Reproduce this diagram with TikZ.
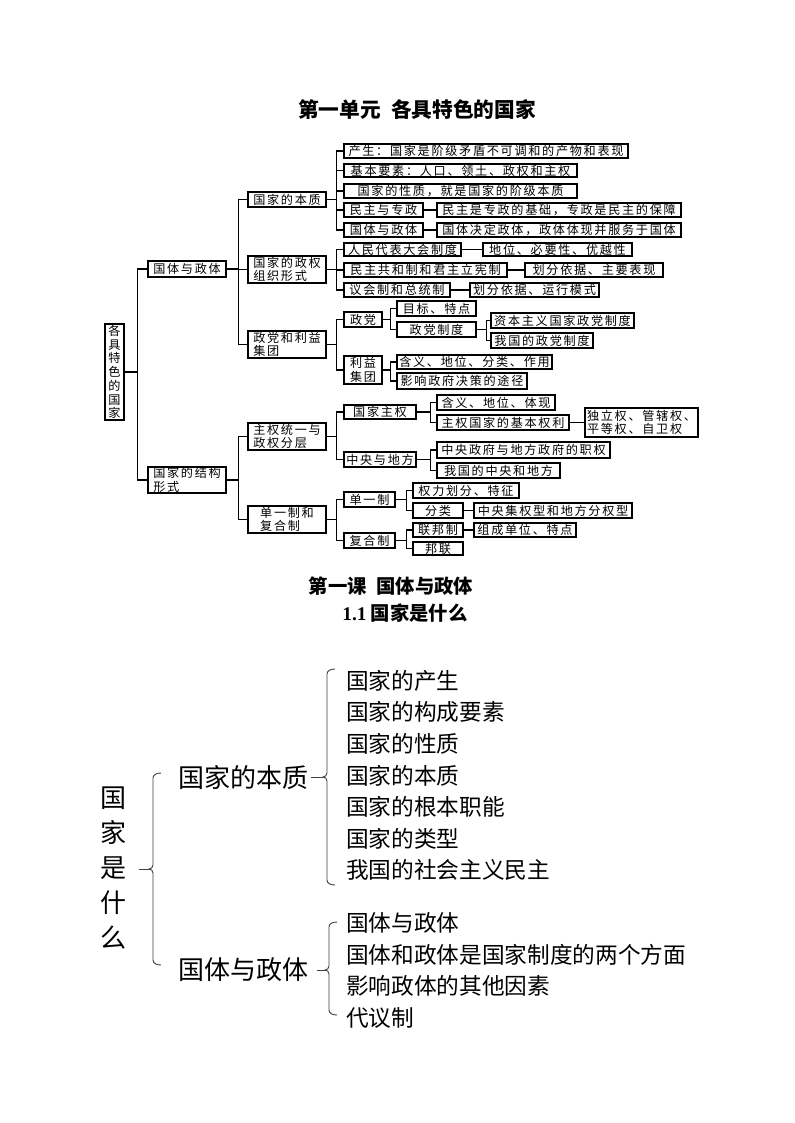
\documentclass[tikz,border=0pt]{standalone}
\usepackage{fontspec}
\setmainfont{Noto Sans CJK SC}
\newfontfamily\boxfont[LetterSpace=14]{Noto Sans CJK SC}
\newfontfamily\latinbold{Liberation Serif}
\tikzset{
  bx/.style={draw, line width=1.2pt, fill=white, inner sep=0pt,
    font=\boxfont\fontsize{9.1}{10}\selectfont, align=center},
  ln/.style={line width=0.9pt},
  brc/.style={line width=0.7pt, draw=black!75},
  big/.style={font=\fontsize{19.5}{26.25}\selectfont, inner sep=0pt},
  lst/.style={font=\fontsize{17}{23.7}\selectfont, inner sep=0pt, align=left, anchor=west},
  ttl/.style={font=\bfseries\fontsize{14.5}{17}\selectfont, inner sep=0pt}
}
% \bx[opts]{x1}{y1}{x2}{y2}{name}{text}
\newcommand\bx[7][]{\node[bx,#1,minimum width={(#4-#2)*0.75pt},minimum height={(#5-#3)*0.75pt}] (#6) at ({(#2+#4)/2},{(#3+#5)/2}) {#7};}
% \br{parent}{offset}{children}
\newcommand\br[3]{\draw[ln] (#1.east) -- ++(#2,0) coordinate (#1k);
  \foreach \c in {#3} {\draw[ln] (\c.west) -| (#1k);}}
% \mybrace{x}{top}{bottom}{tip}{spur}
\newcommand\mybrace[5]{\draw[brc] ({#1+8},#2) to[out=180,in=90] (#1,{#2+5}) -- (#1,{#4-4}) to[out=270,in=0] ({#1-4},#4) to[out=0,in=90] (#1,{#4+4}) -- (#1,{#3-5}) to[out=270,in=180] ({#1+8},#3);
  \draw[brc] (#5,#4) -- ({#1-4},#4);}
\begin{document}
\begin{tikzpicture}[x=0.75pt,y=-0.75pt]
\useasboundingbox[fill=white] (0,0) rectangle (794,1123);
% titles
\node[ttl, font=\bfseries\fontsize{15.5}{18}\selectfont] (t1) at (417,110) {第一单元\hspace{0.5em}各具特色的国家};
\node[ttl] (t2) at (391,586) {第一课\hspace{0.5em}国体与政体};
\node[ttl] (t3) at (405,613) {{\latinbold\bfseries 1.1} 国家是什么};
% top diagram boxes
\bx[font=\boxfont\fontsize{9.1}{10.3}\selectfont]{105}{324}{124}{420}{root}{各\\具\\特\\色\\的\\国\\家}
\bx{148}{261}{226}{277}{a1}{国体与政体}
\bx[align=left]{148}{467}{226}{493}{a2}{国家的结构\\形式}
\bx{248}{192}{326}{207}{b1}{国家的本质}
\bx[align=left]{248}{256}{326}{283}{b2}{国家的政权\\组织形式}
\bx[align=left]{248}{331}{326}{358}{b3}{政党和利益\\集团}
\bx[align=left]{248}{423}{326}{450}{b4}{主权统一与\\政权分层}
\bx[align=left]{248}{506}{326}{533}{b5}{单一制和\\复合制}
\bx{344}{144}{628}{158}{c1}{产生：国家是阶级矛盾不可调和的产物和表现}
\bx{344}{164}{577}{177}{c2}{基本要素：人口、领土、政权和主权}
\bx{344}{184}{577}{198}{c3}{国家的性质，就是国家的阶级本质}
\bx{344}{203}{423}{217}{c4}{民主与专政}
\bx{344}{223}{423}{237}{c5}{国体与政体}
\bx{437}{203}{681}{217}{d4}{民主是专政的基础，专政是民主的保障}
\bx{437}{223}{681}{237}{d5}{国体决定政体，政体体现并服务于国体}
\bx{344}{243}{461}{256}{c6}{人民代表大会制度}
\bx{483}{243}{632}{256}{d6}{地位、必要性、优越性}
\bx{344}{263}{507}{277}{c7}{民主共和制和君主立宪制}
\bx{525}{263}{663}{277}{d7}{划分依据、主要表现}
\bx{344}{283}{450}{297}{c8}{议会制和总统制}
\bx{470}{283}{599}{297}{d8}{划分依据、运行模式}
\bx{344}{312}{382}{327}{c9}{政党}
\bx{344}{356}{382}{384}{c10}{利益\\集团}
\bx{397}{301}{476}{316}{e1}{目标、特点}
\bx{397}{322}{476}{337}{e2}{政党制度}
\bx{491}{313}{634}{328}{f1}{资本主义国家政党制度}
\bx{491}{333}{593}{348}{f2}{我国的政党制度}
\bx{397}{355}{552}{369}{e3}{含义、地位、分类、作用}
\bx{397}{373}{527}{389}{e4}{影响政府决策的途径}
\bx{344}{405}{416}{419}{c11}{国家主权}
\bx{344}{452}{416}{467}{c12}{中央与地方}
\bx{437}{395}{555}{410}{g1}{含义、地位、体现}
\bx{437}{415}{569}{430}{g2}{主权国家的基本权利}
\bx[align=left]{585}{408}{698}{437}{h1}{独立权、管辖权、\\平等权、自卫权}
\bx{437}{442}{610}{458}{g3}{中央政府与地方政府的职权}
\bx{437}{463}{560}{478}{g4}{我国的中央和地方}
\bx{344}{492}{395}{507}{c13}{单一制}
\bx{344}{533}{395}{548}{c14}{复合制}
\bx{413}{483}{519}{498}{i1}{权力划分、特征}
\bx{413}{503}{463}{518}{i2}{分类}
\bx{474}{503}{632}{518}{j1}{中央集权型和地方分权型}
\bx{413}{523}{463}{537}{i3}{联邦制}
\bx{413}{542}{463}{555}{i4}{邦联}
\bx{474}{523}{576}{537}{j2}{组成单位、特点}
% top diagram connectors
\br{root}{13}{a1,a2}
\br{a1}{12}{b1,b2,b3}
\br{a2}{12}{b4,b5}
\br{b1}{10}{c1,c2,c3,c4,c5}
\br{b2}{10}{c6,c7,c8}
\br{b3}{10}{c9,c10}
\br{c9}{8}{e1,e2}
\br{e2}{10}{f1,f2}
\br{c10}{8}{e3,e4}
\br{b4}{10}{c11,c12}
\br{c11}{14}{g1,g2}
\br{c12}{14}{g3,g4}
\br{b5}{10}{c13,c14}
\br{c13}{11}{i1,i2}
\br{c14}{11}{i3,i4}
\draw[ln] (c4.east) -- (d4.west);
\draw[ln] (c5.east) -- (d5.west);
\draw[ln] (c6.east) -- (d6.west);
\draw[ln] (c7.east) -- (d7.west);
\draw[ln] (c8.east) -- (d8.west);
\draw[ln] (g2.east) -- (h1.west |- g2.east);
\draw[ln] (i2.east) -- (j1.west);
\draw[ln] (i3.east) -- (j2.west);
% bottom section
\node[big, align=center] (r2) at (113.5,868) {国\\家\\是\\什\\么};
\node[big, anchor=west] (m1) at (178,778) {国家的本质};
\node[big, anchor=west] (m2) at (178,970) {国体与政体};
\node[lst] (l1) at (346,775.5) {国家的产生\\国家的构成要素\\国家的性质\\国家的本质\\国家的根本职能\\国家的类型\\我国的社会主义民主};
\node[lst] (l2) at (346,970.5) {国体与政体\\国体和政体是国家制度的两个方面\\影响政体的其他因素\\代议制};
\mybrace{153}{773}{965}{869}{139}
\mybrace{327}{669}{885}{777}{311}
\mybrace{329}{922}{1015}{970}{317}
\end{tikzpicture}
\end{document}
